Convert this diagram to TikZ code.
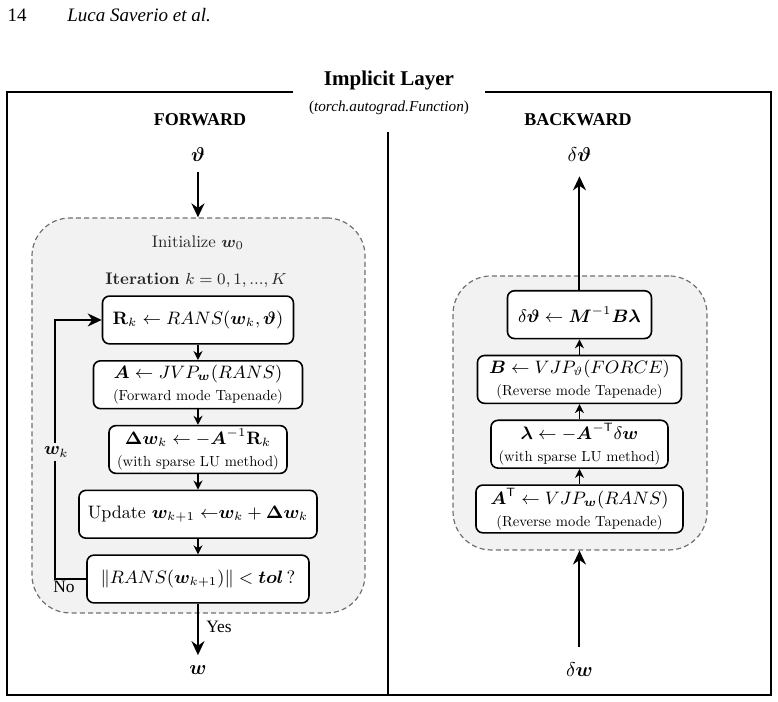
\documentclass[tikz,border=0pt]{standalone}
\usepackage{fontspec}
\usepackage{bm}
\usepackage{amsmath}
\usetikzlibrary{arrows.meta, positioning}
\setmainfont{lmroman10-regular}[Extension=.otf, BoldFont=lmroman10-bold, ItalicFont=lmroman10-italic, BoldItalicFont=lmroman10-bolditalic]
\newfontfamily\tms{Liberation Serif}
\definecolor{panelfill}{HTML}{F2F2F2}
\definecolor{panelline}{HTML}{707070}
\newcommand{\subtxt}[1]{{\fontsize{7.3}{8.6}\selectfont #1}}
\tikzset{
  frm/.style={line width=1pt},
  pnl/.style={draw=panelline, fill=panelfill, dash pattern=on 2.5pt off 1.6pt, line width=0.6pt, rounded corners=19pt},
  box/.style={draw, fill=white, line width=0.8pt, rounded corners=3.5pt, minimum height=0.84cm, inner sep=1pt, align=center, font=\fontsize{9}{11}\selectfont},
  tra/.style={-{Stealth[length=4.5pt, width=4.5pt]}, line width=0.7pt},
  big/.style={-{Stealth[length=7pt, width=6.5pt]}, line width=1pt},
  hdr/.style={font=\tms\bfseries\fontsize{9}{11}\selectfont},
  mlab/.style={font=\fontsize{10}{12}\selectfont, inner sep=2pt},
  tlab/.style={font=\tms\fontsize{8.7}{10}\selectfont, inner sep=1pt},
  glab/.style={font=\fontsize{8.4}{10}\selectfont, text=black!85}
}
\begin{document}
\begin{tikzpicture}
	\useasboundingbox (0,0) rectangle (13.672,12.336);
	% running head of the page
	\node[font=\tms\fontsize{9.5}{11}\selectfont] (pg) at (0.299,12.073) {14};
	\node[font=\tms\itshape\fontsize{9.5}{11}\selectfont, anchor=west, inner sep=0pt] (au) at (1.177,12.073) {Luca Saverio et al.};
	% frame, broken by the title
	\draw[frm] (5.149,10.720) -- (0.123,10.720) -- (0.123,0.123) -- (13.549,0.123) -- (13.549,10.720) -- (8.523,10.720);
	\node[font=\tms\bfseries\fontsize{10.5}{12}\selectfont] (ttl) at (6.836,10.930) {Implicit Layer};
	\node[font=\tms\fontsize{7.6}{9}\selectfont] (fn) at (6.836,10.438) {(\textit{torch.autograd.Function})};
	\draw[frm] (6.818,10.017) -- (6.818,0.123);
	\node[hdr] (fwd) at (3.515,10.227) {FORWARD};
	\node[hdr] (bwd) at (10.157,10.227) {BACKWARD};
	% forward: fixed point loop
	\node[pnl, minimum width=5.852cm, minimum height=6.941cm] (fpan) at (3.488,5.035) {};
	\node[mlab] (th) at (3.479,9.612) {$\bm{\vartheta}$};
	\node[glab] (init) at (3.479,8.066) {Initialize $\bm{w}_0$};
	\node[glab] (iter) at (3.444,7.416) {\textbf{Iteration} $k = 0, 1, ..., K$};
	\node[box, minimum width=3.356cm] (res) at (3.479,6.713) {$\mathbf{R}_k \leftarrow RANS(\bm{w}_k, \bm{\vartheta})$};
	\node[box, minimum width=3.673cm, below=0.27cm of res] (jac) {$\bm{A} \leftarrow JVP_{\bm{w}}(RANS)$\\ \subtxt{(Forward mode Tapenade)}};
	\node[box, minimum width=3.128cm, below=0.27cm of jac] (solve) {$\bm{\Delta w}_k \leftarrow -\bm{A}^{-1}\mathbf{R}_k$\\ \subtxt{(with sparse LU method)}};
	\node[box, minimum width=4.182cm, below=0.27cm of solve] (upd) {Update $\bm{w}_{k+1} \;{\leftarrow}\bm{w}_k + \bm{\Delta w}_k$};
	\node[box, minimum width=3.901cm, below=0.27cm of upd] (conv) {$\|RANS(\bm{w}_{k+1})\| < \bm{tol}\,?$};
	\coordinate (loop) at (0.967,0);
	\draw[big, shorten <=3pt] (th) -- (th |- fpan.north);
	\foreach \a/\b in {res/jac, jac/solve, solve/upd, upd/conv} \draw[tra] (\a) -- (\b);
	\draw[big, line width=0.8pt] (conv.west) -- (loop |- conv.west) -- (loop |- res.west) -- (res.west);
	\node[mlab, fill=panelfill, font=\fontsize{9}{11}\selectfont] (wk) at (0.99,4.393) {$\bm{w}_k$};
	\node[tlab] (no) at (1.125,2.021) {No};
	\node[mlab] (wout) at (3.479,0.562) {$\bm{w}$};
	\draw[big, shorten >=3pt] (conv) -- (wout);
	\node[tlab] (yes) at (3.848,1.318) {Yes};
	% backward: adjoint chain
	\node[pnl, minimum width=4.463cm, minimum height=4.815cm] (bpan) at (10.193,5.079) {};
	\node[box, minimum width=3.638cm] (vjpw) at (10.183,3.392) {$\bm{A}^{\mathsf{T}} \leftarrow VJP_{\bm{w}}(RANS)$\\ \subtxt{(Reverse mode Tapenade)}};
	\node[box, minimum width=3.110cm, above=0.27cm of vjpw] (adj) {$\bm{\lambda} \leftarrow -\bm{A}^{-\mathsf{T}}\delta\bm{w}$\\ \subtxt{(with sparse LU method)}};
	\node[box, minimum width=3.585cm, above=0.27cm of adj] (vjpt) {$\bm{B} \leftarrow VJP_{\vartheta}(FORCE)$\\ \subtxt{(Reverse mode Tapenade)}};
	\node[box, minimum width=2.531cm, above=0.27cm of vjpt] (grad) {$\delta\bm{\vartheta} \leftarrow \bm{M}^{-1}\bm{B}\bm{\lambda}$};
	\node[mlab] (dth) at (10.183,9.612) {$\delta\bm{\vartheta}$};
	\node[mlab] (dw) at (10.183,0.562) {$\delta\bm{w}$};
	\draw[big, shorten <=6pt] (dw) -- (dw |- bpan.south);
	\foreach \a/\b in {vjpw/adj, adj/vjpt, vjpt/grad} \draw[tra] (\a) -- (\b);
	\draw[big, shorten >=5pt] (grad) -- (dth);
\end{tikzpicture}
\end{document}
